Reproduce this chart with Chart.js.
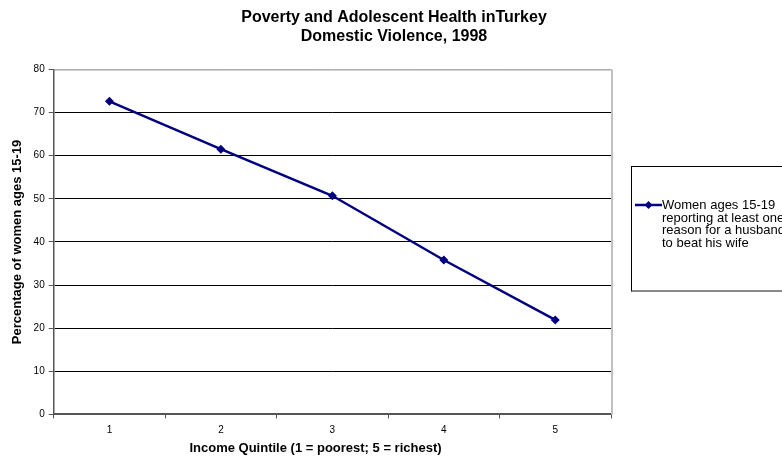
<!DOCTYPE html>
<html>
<head>
<meta charset="utf-8">
<script src="https://cdn.jsdelivr.net/npm/chart.js"></script>
<style>
  body { margin: 0; background: #fff; }
  #wrap { position: relative; width: 782px; height: 460px; overflow: hidden; }
  #legend {
    position: absolute; left: 631px; top: 166px; width: 170px; height: 126px;
    border: 1px solid #000; border-bottom: 2px solid #888; box-sizing: border-box;
    font-family: "Liberation Sans", Arial, sans-serif; font-size: 13px; line-height: 12.5px; color: #000;
  }
  #legend .item { position: absolute; left: 3px; top: 32px; display: flex; align-items: flex-start; }
  #legend canvas { flex-shrink: 0; display: block; }
  #legend .text { margin-left: 0; width: 132px; }
</style>
</head>
<body>
<div id="wrap">
  <canvas id="myChart" width="782" height="460"></canvas>
  <div id="legend"></div>
</div>
<script>
// chart data
const titleLines = ['Poverty and Adolescent Health inTurkey', 'Domestic Violence, 1998'];
const quintiles = ['1', '2', '3', '4', '5'];
const seriesLabel = 'Women ages 15-19 reporting at least one reason for a husband to beat his wife';
const seriesValues = [72.6, 61.5, 50.7, 35.8, 21.9];
const yTicks = [0, 10, 20, 30, 40, 50, 60, 70, 80];
const xTitle = 'Income Quintile (1 = poorest; 5 = richest)';
const yTitle = 'Percentage of women ages 15-19';

const navy = '#000080';
const font = "'Liberation Sans', Arial, sans-serif";

// gray frame on top and right of the plot area
const plotFrame = {
  id: 'plotFrame',
  afterDraw(chart) {
    const a = chart.chartArea, ctx = chart.ctx;
    ctx.save();
    ctx.strokeStyle = '#808080';
    ctx.lineWidth = 1;
    ctx.beginPath();
    ctx.moveTo(a.left, a.top + 0.5);
    ctx.lineTo(a.right + 0.5, a.top + 0.5);
    ctx.stroke();
    ctx.strokeStyle = '#c0c0c0';
    ctx.lineWidth = 2;
    ctx.beginPath();
    ctx.moveTo(a.right + 1, a.top);
    ctx.lineTo(a.right + 1, a.bottom);
    ctx.stroke();

    // x title is centred on the space left of the legend, like the original
    const xs = chart.scales.x;
    ctx.fillStyle = '#000';
    ctx.font = 'bold 13px ' + font;
    ctx.textAlign = 'center';
    ctx.textBaseline = 'middle';
    ctx.fillText(xTitle, (chart.scales.side.left + 20) / 2, xs.bottom - 8);
    ctx.restore();
  }
};

// legend in an html box
const htmlLegend = {
  id: 'htmlLegend',
  afterUpdate(chart) {
    const box = document.getElementById('legend');
    box.innerHTML = '';
    chart.options.plugins.legend.labels.generateLabels(chart).forEach(item => {
      const row = document.createElement('div');
      row.className = 'item';
      const c = document.createElement('canvas');
      c.width = 27; c.height = 12;
      const g = c.getContext('2d');
      g.strokeStyle = navy; g.lineWidth = 2.5;
      g.beginPath(); g.moveTo(0, 6); g.lineTo(27, 6); g.stroke();
      g.fillStyle = navy;
      g.beginPath(); g.moveTo(13.5, 2); g.lineTo(17.5, 6); g.lineTo(13.5, 10); g.lineTo(9.5, 6); g.closePath(); g.fill();
      const t = document.createElement('div');
      t.className = 'text';
      t.textContent = item.text;
      row.appendChild(c);
      row.appendChild(t);
      box.appendChild(row);
    });
  }
};

new Chart(document.getElementById('myChart'), {
  type: 'line',
  data: {
    labels: quintiles,
    datasets: [{
      label: seriesLabel,
      data: seriesValues,
      borderColor: navy,
      backgroundColor: navy,
      borderWidth: 2.5,
      pointStyle: 'rectRot',
      pointRadius: 4.5,
      pointBorderWidth: 0,
      tension: 0
    }]
  },
  options: {
    responsive: false,
    animation: false,
    layout: { padding: { left: 6, right: 0, top: 0, bottom: 4 } },
    plugins: {
      legend: { display: false },
      tooltip: { enabled: false },
      title: {
        display: true,
        text: titleLines,
        color: '#000',
        font: { family: font, size: 16, weight: 'bold', lineHeight: 1.2 },
        padding: { top: 8, bottom: 23 }
      }
    },
    scales: {
      x: {
        offset: true,
        grid: { offset: true, drawOnChartArea: false, drawTicks: true, tickLength: 4, color: '#555' },
        border: { color: '#555', width: 2 },
        ticks: { color: '#000', font: { family: font, size: 10 }, padding: 6, maxRotation: 0 },
        // space kept here, text drawn by plotFrame
        title: { display: true, text: xTitle, color: 'rgba(0,0,0,0)', font: { family: font, size: 13, weight: 'bold' }, padding: { top: -2, bottom: 0 } }
      },
      y: {
        min: 0,
        max: 80,
        afterBuildTicks(axis) { axis.ticks = yTicks.map(v => ({ value: v })); },
        grid: {
          color: ctx => (ctx.tick && ctx.tick.value === 80) ? 'rgba(0,0,0,0)' : '#000',
          lineWidth: 1,
          tickLength: 5,
          tickColor: '#555'
        },
        border: { color: '#555', width: 1.5 },
        ticks: { color: '#000', font: { family: font, size: 10 }, padding: 4 },
        title: { display: true, text: yTitle, color: '#000', font: { family: font, size: 13, weight: 'bold' }, padding: { bottom: 4 } }
      },
      // empty axis on the right keeps room for the legend box
      side: {
        position: 'right',
        display: true,
        grid: { display: false },
        border: { display: false },
        ticks: { display: false },
        afterFit(axis) { axis.width = 171; }
      }
    }
  },
  plugins: [plotFrame, htmlLegend]
});
</script>
</body>
</html>
